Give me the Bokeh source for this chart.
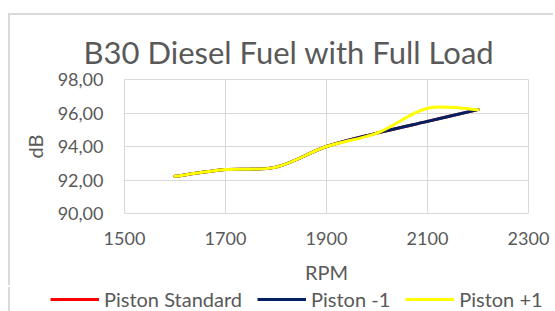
from bokeh.plotting import figure
from bokeh.models import FixedTicker, Legend, LegendItem, Range1d
from bokeh.embed import file_html
from bokeh.resources import INLINE

# ---- data ----
rpm = [1600, 1700, 1800, 1900, 2000, 2100, 2200]
piston_standard = [92.22, 92.62, 92.77, 94.00, 94.80, 95.50, 96.20]
piston_minus1 = [92.22, 92.62, 92.77, 94.00, 94.80, 95.50, 96.20]
piston_plus1 = [92.22, 92.62, 92.77, 94.00, 94.80, 96.28, 96.20]
series_names = ["Piston Standard", "Piston -1", "Piston +1"]
series_colors = ["#FF0000", "#002060", "#FFFF00"]
x_ticks = [1500, 1700, 1900, 2100, 2300]
y_ticks = [90, 92, 94, 96, 98]
y_tick_labels = ["90,00", "92,00", "94,00", "96,00", "98,00"]

TXT = "#595959"
GRID = "#d9d9d9"
FONT = "Lato"


def smooth_segments(xs, ys):
    """Catmull-Rom style smoothing (as in Excel's smoothed lines) as Bezier segments."""
    n = len(xs)
    out = dict(x0=[], y0=[], x1=[], y1=[], cx0=[], cy0=[], cx1=[], cy1=[])
    for i in range(n - 1):
        pm = i - 1 if i > 0 else i
        pp = i + 2 if i + 2 < n else i + 1
        out["x0"].append(xs[i]); out["y0"].append(ys[i])
        out["x1"].append(xs[i + 1]); out["y1"].append(ys[i + 1])
        out["cx0"].append(xs[i] + (xs[i + 1] - xs[pm]) / 6.0)
        out["cy0"].append(ys[i] + (ys[i + 1] - ys[pm]) / 6.0)
        out["cx1"].append(xs[i + 1] - (xs[pp] - xs[i]) / 6.0)
        out["cy1"].append(ys[i + 1] - (ys[pp] - ys[i]) / 6.0)
    return out


series_values = [piston_standard, piston_minus1, piston_plus1]

p = figure(width=545, height=272, x_range=(1500, 2300), y_range=(90, 98),
           output_backend="svg", toolbar_location=None,
           min_border_left=114, min_border_right=27,
           min_border_top=64, min_border_bottom=74)
p.styles = {"transform": "translate(10px, 15px)",
            "box-shadow": "-2px -2px 0 0 #d9d9d9"}

p.title.text = "B30 Diesel Fuel with Full Load"
p.title.align = "left"
p.title.offset = -41
p.title.standoff = 18
p.title.text_font = FONT
p.title.text_font_size = "31px"
p.title.text_font_style = "normal"
p.title.text_color = TXT

p.outline_line_color = GRID
p.outline_line_width = 1
p.background_fill_color = "white"
p.border_fill_color = "white"

p.xaxis.ticker = FixedTicker(ticks=x_ticks)
p.yaxis.ticker = FixedTicker(ticks=y_ticks)
p.yaxis.major_label_overrides = {t: l for t, l in zip(y_ticks, y_tick_labels)}

for ax in (p.xaxis, p.yaxis):
    ax.axis_line_color = None
    ax.major_tick_line_color = None
    ax.minor_tick_line_color = None
    ax.major_tick_out = 0
    ax.major_tick_in = 0
    ax.major_label_text_font = FONT
    ax.major_label_text_font_size = "18px"
    ax.major_label_text_color = TXT
    ax.axis_label_text_font = FONT
    ax.axis_label_text_font_size = "20px"
    ax.axis_label_text_font_style = "normal"
    ax.axis_label_text_color = TXT

p.xaxis.axis_label = "RPM"
p.yaxis.axis_label = "dB"
p.yaxis.major_label_standoff = 21
p.xaxis.major_label_standoff = 18
p.xaxis.axis_label_standoff = 12
p.yaxis.axis_label_standoff = 8

p.grid.grid_line_color = GRID
p.grid.grid_line_width = 1

for name, color, vals in zip(series_names, series_colors, series_values):
    seg = smooth_segments(rpm, vals)
    p.bezier(line_color=color, line_width=3, line_cap="round", **seg)

# legend strip underneath the chart: separate root, no axes, its frame is the whole strip
pl = figure(width=545, height=24, x_range=Range1d(0, 1), y_range=Range1d(0, 1),
            output_backend="svg", toolbar_location=None,
            x_axis_location=None, y_axis_location=None,
            min_border_left=0, min_border_right=0,
            min_border_top=0, min_border_bottom=0)
pl.styles = {"transform": "translate(10px, 15px)",
             "box-shadow": "-2px 0 0 0 #d9d9d9"}
pl.grid.visible = False
pl.outline_line_color = None
pl.background_fill_color = "white"
pl.border_fill_color = "white"

items = []
for name, color, vals in zip(series_names, series_colors, series_values):
    # series lie outside this strip's ranges: only their legend swatches show
    r = pl.line(x=rpm, y=vals, line_color=color, line_width=3)
    items.append(LegendItem(label=name, renderers=[r]))

legend = Legend(items=items, orientation="horizontal", location=(40, 0),
                padding=0, margin=0, spacing=15, label_standoff=5,
                glyph_width=49, glyph_height=20,
                border_line_color=None, background_fill_alpha=0,
                label_text_font=FONT, label_text_font_size="20px",
                label_text_color=TXT)
pl.add_layout(legend, "center")

open("out.html", "w").write(file_html([p, pl], INLINE))
